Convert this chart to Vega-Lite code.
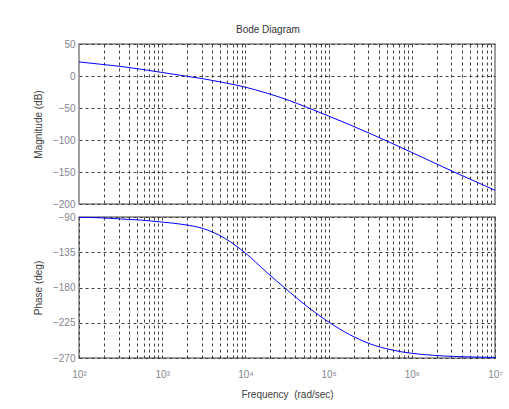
{
  "$schema": "https://vega.github.io/schema/vega-lite/v6.json",
  "padding": {"left": 32, "top": 25, "right": 10, "bottom": 5},
  "background": "white",
  "title": {"text": "Bode Diagram", "fontSize": 10, "font": "Liberation Sans", "fontWeight": "normal", "color": "#333333", "anchor": "middle", "offset": 3},
  "data": {"values": [
    {"f": 100, "mag": 22, "phase": -90.5},
    {"f": 177.8, "mag": 18.5, "phase": -91},
    {"f": 316.2, "mag": 15, "phase": -92.5},
    {"f": 562.3, "mag": 10.5, "phase": -94},
    {"f": 1000, "mag": 5.5, "phase": -96.5},
    {"f": 1778, "mag": 0.5, "phase": -99.5},
    {"f": 3162, "mag": -4.5, "phase": -105},
    {"f": 5623, "mag": -10.5, "phase": -117},
    {"f": 10000, "mag": -17.5, "phase": -136},
    {"f": 17783, "mag": -26.5, "phase": -160},
    {"f": 31623, "mag": -37, "phase": -183},
    {"f": 56234, "mag": -49.5, "phase": -205},
    {"f": 100000, "mag": -62.5, "phase": -224},
    {"f": 177828, "mag": -76, "phase": -240},
    {"f": 316228, "mag": -90, "phase": -252},
    {"f": 562341, "mag": -104.5, "phase": -259.5},
    {"f": 1000000, "mag": -119.5, "phase": -264},
    {"f": 1778279, "mag": -134.5, "phase": -266.5},
    {"f": 3162278, "mag": -149.5, "phase": -268},
    {"f": 5623413, "mag": -164, "phase": -268.8},
    {"f": 10000000, "mag": -178.5, "phase": -269.3}
  ]},
  "spacing": 1,
  "vconcat": [
    {
      "width": 416,
      "height": 160,
      "mark": {"type": "line", "color": "#0000ff", "strokeWidth": 1, "interpolate": "monotone", "clip": true},
      "encoding": {
        "x": {"field": "f", "type": "quantitative",
          "scale": {"type": "log", "domain": [100, 10000000], "nice": false},
          "axis": {"values": [200,300,400,500,600,700,800,900,1000,2000,3000,4000,5000,6000,7000,8000,9000,10000,20000,30000,40000,50000,60000,70000,80000,90000,100000,200000,300000,400000,500000,600000,700000,800000,900000,1000000,2000000,3000000,4000000,5000000,6000000,7000000,8000000,9000000],
            "labels": false, "title": null}},
        "y": {"field": "mag", "type": "quantitative",
          "scale": {"domain": [-200, 50], "nice": false},
          "axis": {"values": [-200,-150,-100,-50,0,50], "title": "Magnitude (dB)"}}
      }
    },
    {
      "width": 416,
      "height": 141,
      "mark": {"type": "line", "color": "#0000ff", "strokeWidth": 1, "interpolate": "monotone", "clip": true},
      "encoding": {
        "x": {"field": "f", "type": "quantitative",
          "scale": {"type": "log", "domain": [100, 10000000], "nice": false},
          "axis": {"values": [100,200,300,400,500,600,700,800,900,1000,2000,3000,4000,5000,6000,7000,8000,9000,10000,20000,30000,40000,50000,60000,70000,80000,90000,100000,200000,300000,400000,500000,600000,700000,800000,900000,1000000,2000000,3000000,4000000,5000000,6000000,7000000,8000000,9000000,10000000],
            "labelExpr": "datum.value == 100 ? '10²' : datum.value == 1000 ? '10³' : datum.value == 10000 ? '10⁴' : datum.value == 100000 ? '10⁵' : datum.value == 1000000 ? '10⁶' : datum.value == 10000000 ? '10⁷' : ''",
            "labelPadding": 11, "labelFlush": false, "labelOverlap": false,
            "title": "Frequency \u00a0(rad/sec)", "titlePadding": 10}},
        "y": {"field": "phase", "type": "quantitative",
          "scale": {"domain": [-270, -90], "nice": false},
          "axis": {"values": [-270,-225,-180,-135,-90], "title": "Phase (deg)"}}
      }
    }
  ],
  "config": {
    "font": "Liberation Sans",
    "view": {"stroke": "#808080", "strokeWidth": 1.5},
    "axis": {
      "labelFont": "Liberation Sans", "labelFontSize": 10, "labelColor": "#858590",
      "titleFont": "Liberation Sans", "titleFontSize": 10, "titleFontWeight": "normal", "titleColor": "#404040",
      "gridColor": "#404040", "gridDash": [3, 3], "gridWidth": 1, "gridOpacity": 1,
      "domain": false, "ticks": false, "labelPadding": 4, "titlePadding": 9
    }
  }
}
